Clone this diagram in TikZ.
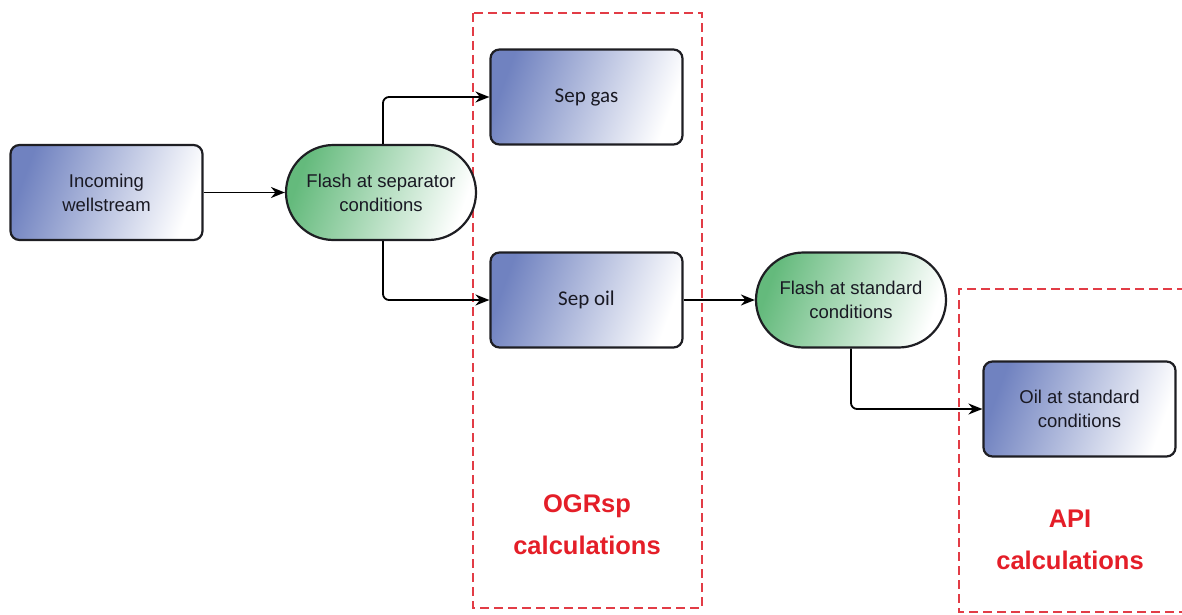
\documentclass[tikz,border=0pt]{standalone}
\usepackage{fontspec}
\setmainfont{Liberation Sans}
\newfontfamily\carlitofont{Carlito}
\usetikzlibrary{arrows.meta,shapes.misc}
\definecolor{boxblue}{RGB}{112,130,192}
\definecolor{boxgreen}{RGB}{100,186,124}
\definecolor{calcred}{RGB}{228,30,40}
\definecolor{dashred}{RGB}{226,60,70}
\definecolor{edge}{RGB}{30,30,35}
\definecolor{txt}{RGB}{25,25,35}
\tikzset{
  bluebox/.style={rectangle, rounded corners=9pt, draw=edge, line width=2.2pt,
    left color=boxblue, right color=white, shading angle=70,
    minimum width=192pt, minimum height=95pt, align=center,
    font=\fontsize{18.5}{24}\selectfont, text=txt},
  greenflash/.style={rounded rectangle, draw=edge, line width=2.2pt,
    left color=boxgreen, right color=white, shading angle=70,
    minimum width=192pt, minimum height=95pt, align=center,
    font=\fontsize{18.5}{24}\selectfont, text=txt, inner xsep=1pt},
  flow/.style={draw=black, line width=1.8pt, rounded corners=6pt,
    -{Stealth[length=14pt,width=11pt]}},
  calcbox/.style={draw=dashred, line width=2pt, dash pattern=on 9pt off 5pt},
  calclabel/.style={text=calcred, align=center,
    font=\bfseries\fontsize{25.5}{42}\selectfont}
}
\begin{document}
\begin{tikzpicture}[x=1pt,y=-1pt]
\useasboundingbox (0,0) rectangle (1182,615);

% dashed calculation regions
\draw[calcbox] (473,13) rectangle (702,608);
\draw[calcbox] (1200,289) -- (959,289) -- (959,612) -- (1200,612);

% nodes
\node[bluebox] (inc) at (106.5,192.5) {Incoming\\wellstream};
\node[greenflash] (fsep) at (381,192.5) {Flash at separator\\conditions};
\node[bluebox, font=\carlitofont\fontsize{21}{25}\selectfont] (sepgas) at (586.5,97) {Sep gas};
\node[bluebox, font=\carlitofont\fontsize{21}{25}\selectfont] (sepoil) at (586.5,300) {Sep oil};
\node[greenflash] (fstd) at (851,300) {Flash at standard\\conditions};
\node[bluebox] (oilstd) at (1079.5,409) {Oil at standard\\conditions};

% labels
\node[calclabel] (lab1) at (587,525) {OGRsp\\calculations};
\node[calclabel] (lab2) at (1070,540) {API\\calculations};

% connectors
\draw[flow] (inc.east) -- (fsep.west);
\draw[flow] ([xshift=2pt]fsep.north) |- (sepgas.west);
\draw[flow] ([xshift=2pt]fsep.south) |- (sepoil.west);
\draw[flow] (sepoil.east) -- (fstd.west);
\draw[flow] (fstd.south) |- (oilstd.west);
\end{tikzpicture}
\end{document}
